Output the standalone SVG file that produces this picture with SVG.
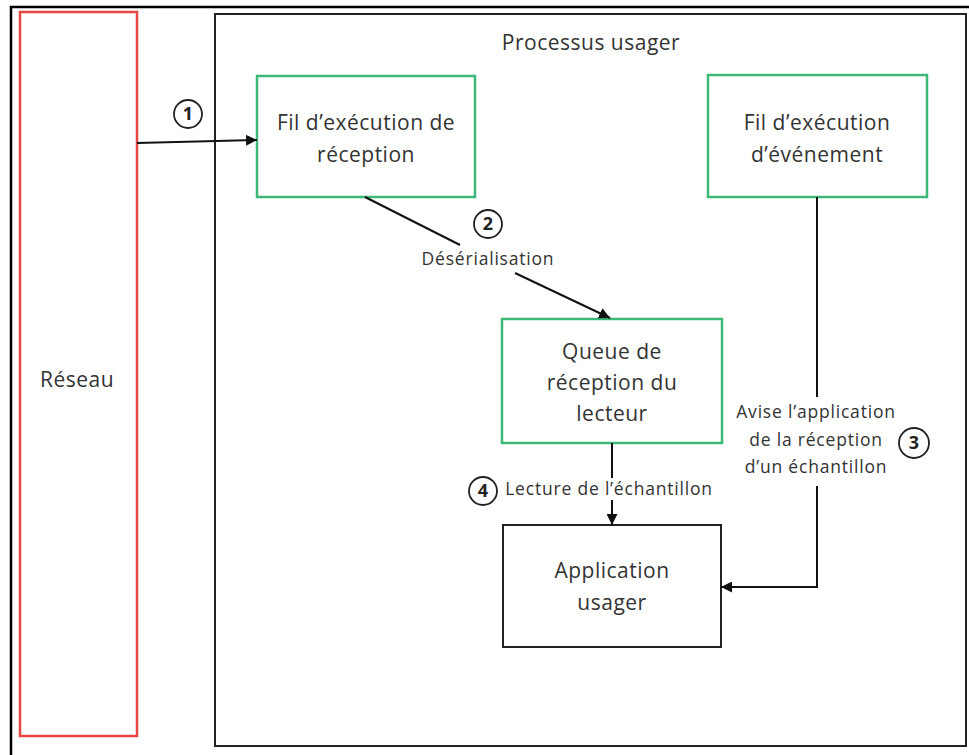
<svg xmlns="http://www.w3.org/2000/svg" width="969" height="755" viewBox="0 0 969 755">
<defs>
<marker id="ah" viewBox="0 0 10 10" refX="10" refY="5" markerWidth="11" markerHeight="11" markerUnits="userSpaceOnUse" orient="auto">
<path d="M0,0 L10,5 L0,10 z" fill="#111"/>
</marker>
<style>
text{font-family:"Open Sans","Liberation Sans",Arial,sans-serif;fill:#333;text-anchor:middle}
.big{font-size:21px;letter-spacing:0.5px}
.sm{font-size:17.5px;letter-spacing:0.8px}
.num{font-size:18px;font-weight:bold;fill:#222}
.green{fill:#fff;stroke:#3cb878;stroke-width:2.5}
.blk{fill:#fff;stroke:#222;stroke-width:2}
.circ{fill:#fff;stroke:#222;stroke-width:1.8}
.con{fill:none;stroke:#111;stroke-width:2}
</style>
</defs>
<rect x="0" y="0" width="969" height="755" fill="#fff"/>
<rect x="11" y="7" width="980" height="770" fill="none" stroke="#000" stroke-width="2.5"/>
<g id="reseau">
<rect x="20" y="12" width="117" height="724" fill="#fff" stroke="#e84545" stroke-width="2.5"/>
<text class="big" x="77" y="387">Réseau</text>
</g>
<g id="processus">
<rect x="215" y="14" width="751" height="732" class="blk"/>
<text class="big" x="591" y="50">Processus usager</text>
</g>
<g id="fil-reception">
<rect x="257" y="76" width="218" height="121" class="green"/>
<text class="big" x="366" y="130">Fil d’exécution de</text>
<text class="big" x="366" y="162">réception</text>
</g>
<g id="fil-evenement">
<rect x="708" y="75" width="219" height="122" class="green"/>
<text class="big" x="817" y="130">Fil d’exécution</text>
<text class="big" x="817" y="162">d’événement</text>
</g>
<g id="queue">
<rect x="502" y="319" width="220" height="124" class="green"/>
<text class="big" x="612" y="359">Queue de</text>
<text class="big" x="612" y="390">réception du</text>
<text class="big" x="612" y="421">lecteur</text>
</g>
<g id="application">
<rect x="503" y="525" width="218" height="122" class="blk"/>
<text class="big" x="612" y="578">Application</text>
<text class="big" x="612" y="610">usager</text>
</g>
<g id="connectors">
<line x1="137" y1="143" x2="257" y2="140" class="con" marker-end="url(#ah)"/>
<circle cx="188" cy="114" r="14" class="circ"/>
<text class="num" x="188" y="120">1</text>
<line x1="365" y1="197" x2="460" y2="245" class="con"/>
<line x1="515" y1="273" x2="610" y2="318" class="con" marker-end="url(#ah)"/>
<circle cx="488" cy="224" r="14" class="circ"/>
<text class="num" x="488" y="230">2</text>
<text class="sm" x="488" y="265">Désérialisation</text>
<line x1="817" y1="197" x2="817" y2="397" class="con"/>
<polyline points="817,486 817,587 721,587" class="con" marker-end="url(#ah)"/>
<text class="sm" x="816" y="418">Avise l’application</text>
<text class="sm" x="816" y="446">de la réception</text>
<text class="sm" x="816" y="473">d’un échantillon</text>
<circle cx="914" cy="443" r="15" class="circ"/>
<text class="num" x="914" y="449">3</text>
<line x1="612" y1="443" x2="612" y2="478" class="con"/>
<line x1="612" y1="500" x2="612" y2="525" class="con" marker-end="url(#ah)"/>
<circle cx="483" cy="491" r="14" class="circ"/>
<text class="num" x="483" y="497">4</text>
<text class="sm" x="609" y="495">Lecture de l’échantillon</text>
</g>
</svg>
